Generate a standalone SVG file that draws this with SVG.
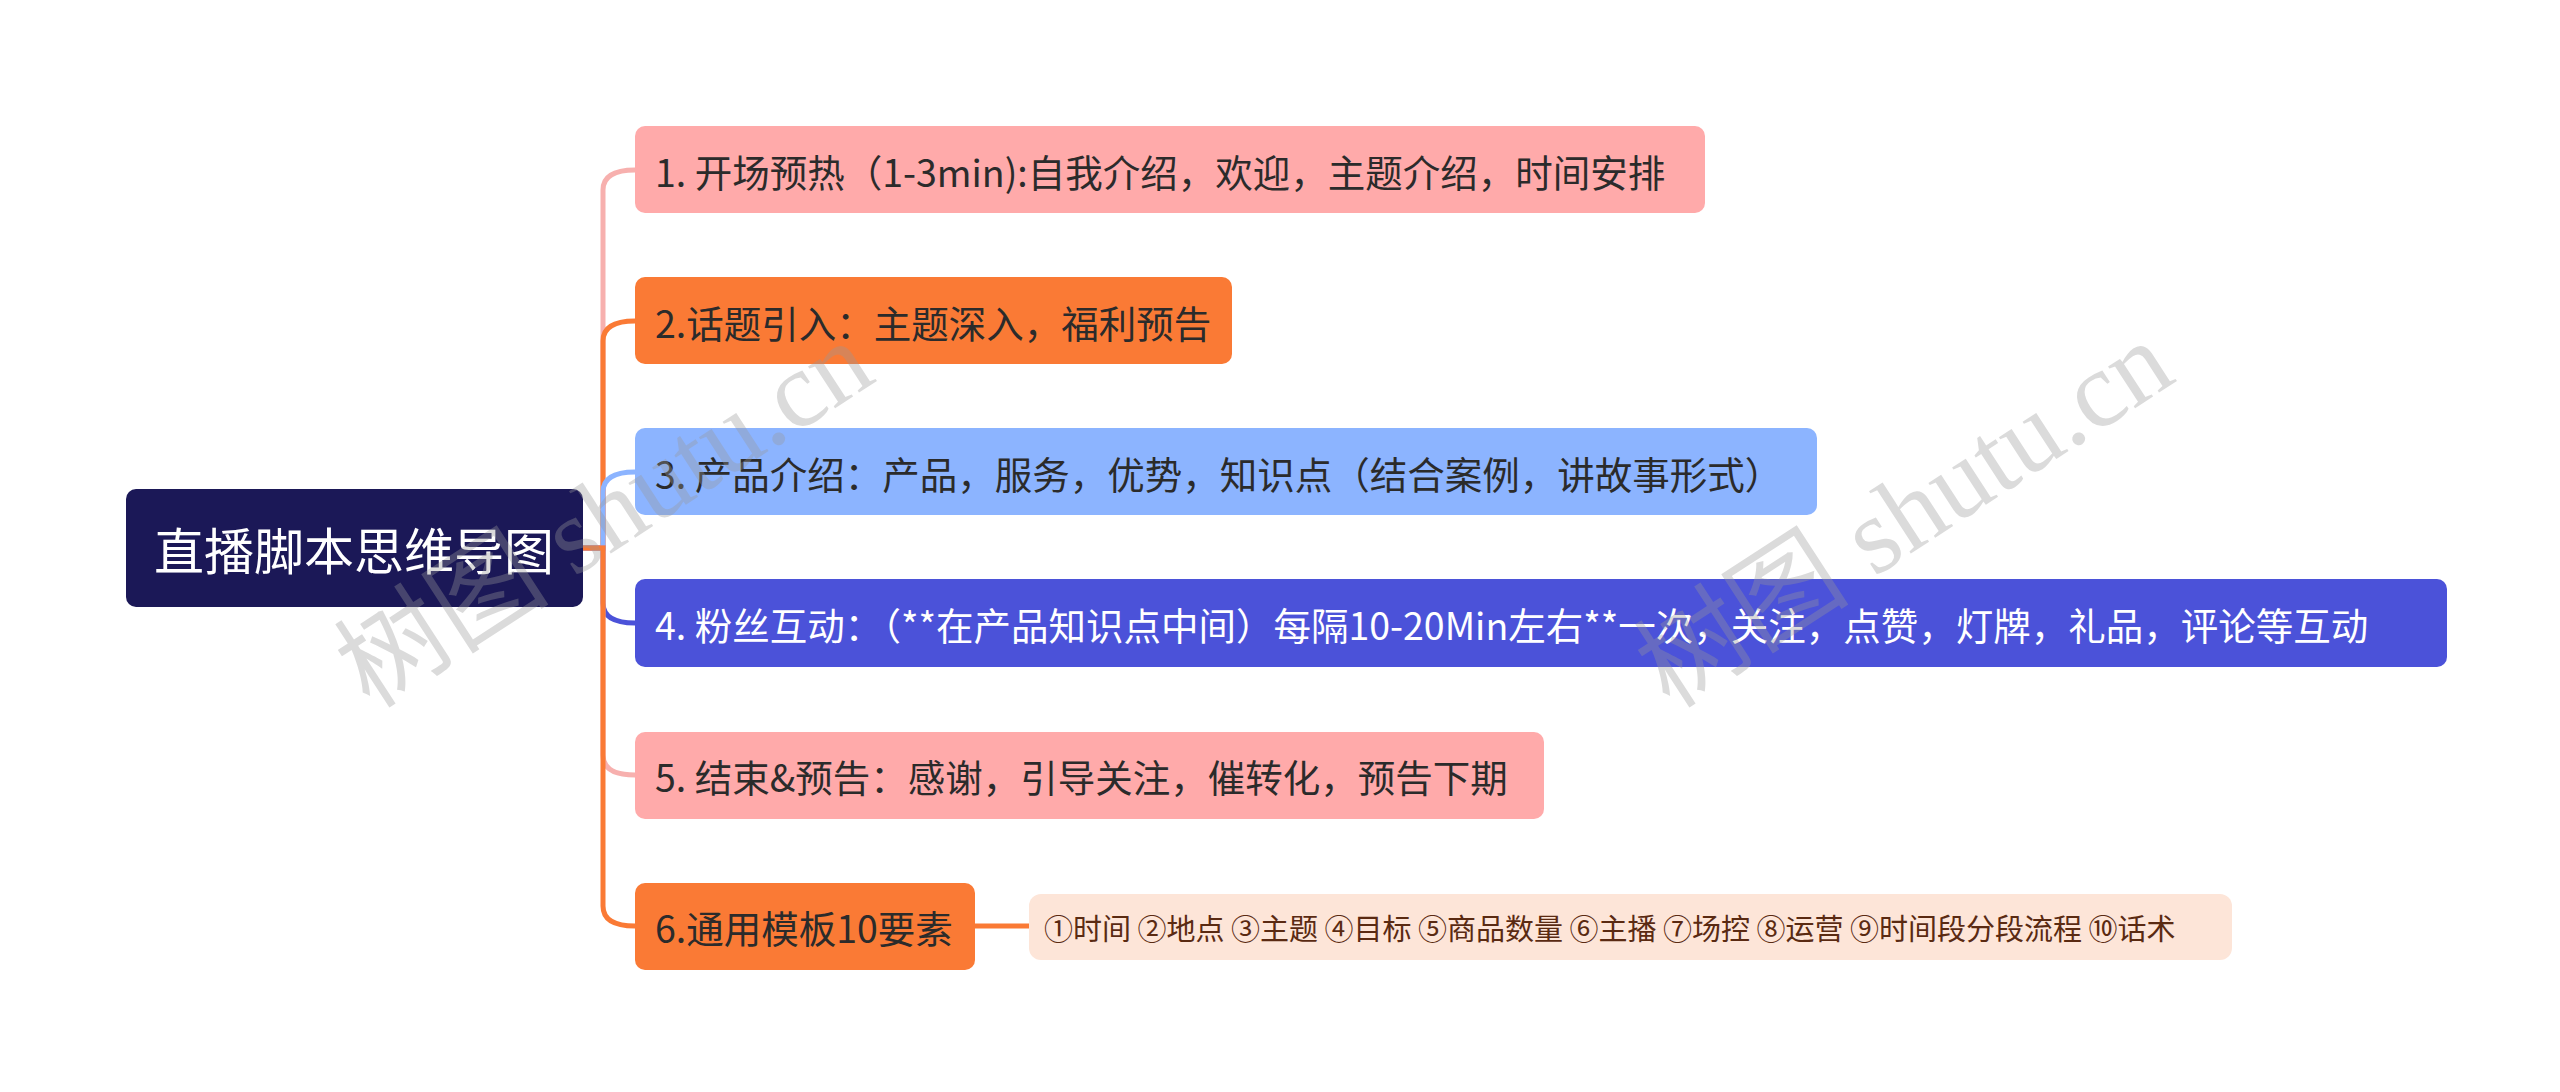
<svg xmlns="http://www.w3.org/2000/svg" width="2560" height="1092" viewBox="0 0 2560 1092">
<style>
.t{font-family:"Noto Sans CJK SC","Noto Sans",sans-serif;font-size:37.5px;fill:#2b2b2b;dominant-baseline:central}
.c{fill:none;stroke-width:5}
.wm{font-family:"Liberation Serif","Noto Sans CJK SC",serif;font-size:108px;fill:#999;opacity:0.35}
</style>
<rect width="2560" height="1092" fill="#fff"/>
<g id="connectors">
<path class="c" stroke="#F7B0AE" d="M583 548 H603 V190 Q603 170 635 170"/>
<path class="c" stroke="#FA7A35" d="M583 548 H603 V341 Q603 321 635 321"/>
<path class="c" stroke="#8CB4FF" d="M583 548 H603 V492 Q603 472 635 472"/>
<path class="c" stroke="#4B52D9" d="M583 548 H603 V603 Q603 623 635 623"/>
<path class="c" stroke="#F7B0AE" d="M583 548 H603 V755 Q603 775 635 775"/>
<path class="c" stroke="#FA7A35" d="M583 548 H603 V906 Q603 926 635 926"/>
<path class="c" stroke="#FA7A35" d="M975 926 H1029"/>
</g>
<g id="root"><rect x="126" y="489" width="457" height="118" rx="10" fill="#1B1857"/><text class="t" x="354" y="548" text-anchor="middle" style="font-size:50px;fill:#fff">直播脚本思维导图</text></g>
<g id="b1"><rect x="635" y="126" width="1070" height="87" rx="10" fill="#FFAAAA"/><text class="t" x="655" y="170">1. 开场预热（1-3min):自我介绍，欢迎，主题介绍，时间安排</text></g>
<g id="b2"><rect x="635" y="277" width="597" height="87" rx="10" fill="#FA7A35"/><text class="t" x="655" y="321">2.话题引入：主题深入，福利预告</text></g>
<g id="b3"><rect x="635" y="428" width="1182" height="87" rx="10" fill="#8CB4FF"/><text class="t" x="655" y="472">3. 产品介绍：产品，服务，优势，知识点（结合案例，讲故事形式）</text></g>
<g id="b4"><rect x="635" y="579" width="1812" height="88" rx="10" fill="#4B52D9"/><text class="t" x="655" y="623" style="fill:#fff">4. 粉丝互动：（**在产品知识点中间）每隔10-20Min左右**一次，关注，点赞，灯牌，礼品，评论等互动</text></g>
<g id="b5"><rect x="635" y="732" width="909" height="87" rx="10" fill="#FFAAAA"/><text class="t" x="655" y="775">5. 结束&amp;预告：感谢，引导关注，催转化，预告下期</text></g>
<g id="b6"><rect x="635" y="883" width="340" height="87" rx="10" fill="#FA7A35"/><text class="t" x="655" y="926">6.通用模板10要素</text></g>
<g id="leaf"><rect x="1029" y="894" width="1203" height="66" rx="12" fill="#FDE5D8"/><text class="t" x="1044" y="927" style="font-size:29px;fill:#5A2A12">①时间 ②地点 ③主题 ④目标 ⑤商品数量 ⑥主播 ⑦场控 ⑧运营 ⑨时间段分段流程 ⑩话术</text></g>
<g id="watermark">
<text class="wm" transform="translate(370 710) rotate(-33)">树图 shutu.cn</text>
<text class="wm" transform="translate(1670 710) rotate(-33)">树图 shutu.cn</text>
</g>
</svg>
